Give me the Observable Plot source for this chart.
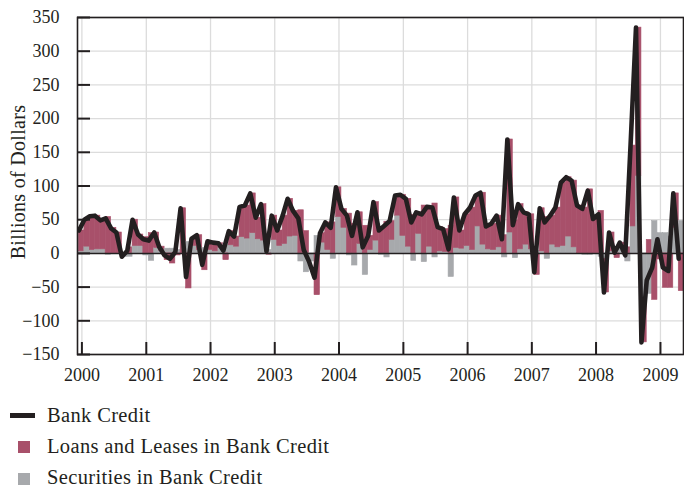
<!DOCTYPE html>
<html><head><meta charset="utf-8">
<script src="https://cdn.jsdelivr.net/npm/d3@7"></script>
<script src="https://cdn.jsdelivr.net/npm/@observablehq/plot@0.6"></script>
<style>
body{margin:0;background:#fff;font-family:"Liberation Serif",serif;color:#231f20;}
#wrap{position:relative;width:684px;height:488px;overflow:hidden;}
#chart{position:absolute;left:0;top:0;}
.ylab{position:absolute;left:18px;top:182px;transform:translate(-50%,-50%) rotate(-90deg);white-space:nowrap;font-size:20px;letter-spacing:0.3px;}
.item{position:absolute;left:47px;font-size:20.5px;line-height:18px;white-space:nowrap;letter-spacing:0.35px;}
.sw{position:absolute;}
</style></head><body>
<div id="wrap">
<div id="chart"></div>
<div class="ylab">Billions of Dollars</div>
<div class="sw" style="left:10px;top:413px;width:25px;height:5px;background:#231f20"></div>
<div class="item" style="top:406px">Bank Credit</div>
<div class="sw" style="left:18px;top:441px;width:12px;height:12px;background:#a8506a"></div>
<div class="item" style="top:437px">Loans and Leases in Bank Credit</div>
<div class="sw" style="left:18px;top:473px;width:12px;height:12px;background:#a7a9ac"></div>
<div class="item" style="top:468px">Securities in Bank Credit</div>
</div>
<script>
// Monthly changes, Dec 1999 .. Apr 2009 (billions of dollars)
const bankCredit = [
  34,
  50, 55, 56, 49, 52, 37, 31, -5, 4, 50, 28, 21,
  19, 31, 10, -3, -8, 2, 67, -35, 22, 27, -17, 18,
  16, 15, 4, 33, 25, 69, 71, 89, 53, 73, 3, 56,
  34, 56, 81, 63, 52, 5, -12, -36, 30, 46, 38, 98,
  66, 56, 26, 61, 9, 26, 76, 34, 41, 48, 86, 87,
  81, 46, 61, 58, 69, 68, 39, 36, 6, 83, 34, 58,
  68, 86, 90, 40, 44, 56, 21, 169, 42, 73, 61, 58,
  -28, 67, 46, 56, 68, 105, 113, 108, 71, 66, 93, 51,
  58, -58, 31, 1, 16, -3, 160, 335, -132, -40, -21, 21,
  -21, -26, 89, -8
];
const securities = [
  3,
  10, 5, 6, 6, -2, -1, 0, -5, -5, 11, 11, -3,
  -11, 8, 4, 7, 7, 5, 0, 17, 11, 5, 8, 5,
  3, 8, 14, 12, 10, 24, 22, 30, 21, 19, 5, 20,
  11, 14, 25, 26, -12, -28, -12, 26, 16, 5, -8, 54,
  38, -3, -18, 14, -32, 5, 19, -2, -6, 20, 56, 26,
  10, -11, 29, -13, 10, -6, 3, 2, -35, 8, 7, 11,
  5, 40, 13, 6, 5, 9, -6, 31, -7, 6, 13, 6,
  4, 3, -8, 13, 9, 11, 25, 9, 0, -2, -2, 0,
  -5, -8, 3, 8, 10, -12, 40, 115, -70, -60, 48, 30,
  30, 25, 38, 48
];
const loans = [
  31,
  40, 50, 50, 43, 54, 38, 31, 0, 9, 39, 17, 24,
  30, 23, 6, -10, -15, -3, 67, -52, 11, 22, -25, 13,
  13, 7, -10, 21, 15, 45, 49, 59, 32, 54, -2, 36,
  23, 42, 56, 37, 64, 33, 0, -62, 14, 41, 46, 44,
  28, 59, 44, 47, 41, 21, 57, 36, 47, 28, 30, 61,
  71, 57, 32, 71, 59, 74, 36, 34, 41, 75, 27, 47,
  63, 46, 77, 34, 39, 47, 27, 138, 49, 67, 48, 52,
  -32, 64, 54, 43, 59, 94, 88, 99, 71, 68, 95, 51,
  63, -50, 28, -7, 6, 9, 120, 220, -62, 20, -69, -9,
  -51, -51, 51, -56
];
const years = [2000, 2001, 2002, 2003, 2004, 2005, 2006, 2007, 2008, 2009];
const yTicks = [-150, -100, -50, 0, 50, 100, 150, 200, 250, 300, 350];

const monthDate = k => new Date(Date.UTC(1999, 11 + k, 15));
const yearDates = years.map(y => new Date(Date.UTC(y, 0, 1)));
const lineData = bankCredit.map((v, k) => ({date: monthDate(k), value: v}));
const barData = [];
bankCredit.forEach((_, k) => {
  barData.push({x1: monthDate(k), x2: monthDate(k + 1), series: "Securities", value: securities[k]});
  barData.push({x1: monthDate(k), x2: monthDate(k + 1), series: "Loans", value: loans[k]});
});

const ink = "#231f20";
const chart = Plot.plot({
  width: 684, height: 395,
  marginLeft: 77, marginRight: 1, marginTop: 17, marginBottom: 41,
  style: {fontFamily: "'Liberation Serif', serif", fontSize: "18px", color: ink, background: "white"},
  x: {type: "utc", domain: [new Date(Date.UTC(1999, 11, 7)), new Date(Date.UTC(2009, 4, 12))], label: null},
  y: {domain: [-150, 350], label: null},
  color: {domain: ["Loans", "Securities"], range: ["#a8506a", "#a7a9ac"]},
  marks: [
    Plot.gridY(yTicks, {stroke: "#dcdcdc", strokeOpacity: 1, strokeWidth: 1.3}),
    Plot.gridX(yearDates, {stroke: "#dcdcdc", strokeOpacity: 1, strokeWidth: 1.3}),
    Plot.rectY(barData, {x1: "x1", x2: "x2", y: "value", fill: "series", stroke: "series", strokeWidth: 0.6, clip: true}),
    Plot.ruleY([0], {stroke: ink, strokeWidth: 1.5}),
    Plot.line(lineData, {x: "date", y: "value", stroke: ink, strokeWidth: 4.6, strokeLinejoin: "round", clip: true}),
    Plot.axisY(yTicks, {tickSize: 0, tickPadding: 18, label: null, fontSize: 18}),
    Plot.axisY(yTicks, {tickSize: 13, dx: 13, tickFormat: () => "", label: null, strokeWidth: 2, stroke: ink}),
    Plot.axisX(yearDates, {tickSize: 0, tickPadding: 14, tickFormat: d3.utcFormat("%Y"), label: null, fontSize: 18}),
    Plot.axisX(yearDates, {tickSize: 12, dy: -12, tickFormat: () => "", label: null, strokeWidth: 2, stroke: ink}),
    Plot.frame({stroke: ink, strokeWidth: 1.6})
  ]
});
document.getElementById("chart").appendChild(chart);
</script>
</body></html>
